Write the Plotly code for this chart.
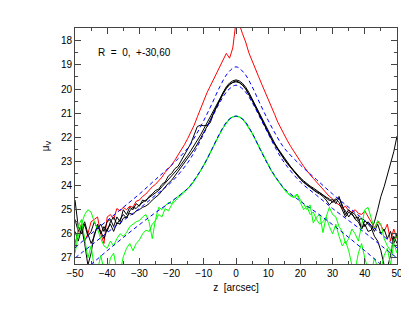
import plotly.graph_objects as go

# sampling positions (arcsec) for the measured profiles
z_obs = list(range(-50, 51))

red_R0 = [
    26.4, 25.9, 25.6, 26.3, 26.0, 25.5, 25.4, 25.3, 26.0, 26.4,
    25.3, 25.2, 25.4, 24.95, 25.05, 24.9, 25.0, 24.85, 24.9, 24.65,
    24.6, 24.45, 24.35, 24.2, 24.05, 23.95, 23.8, 23.65, 23.45, 23.3,
    23.15, 22.95, 22.75, 22.55, 22.3, 22.05, 21.8, 21.5, 21.15, 20.8,
    20.45, 20.15, 19.88, 19.6, 19.33, 19.08, 18.75, 18.52, 18.72, 18.3,
    17.2, 17.3, 17.7, 18.05, 18.5, 18.85, 19.15, 19.48, 19.8, 20.1,
    20.4, 20.72, 21.05, 21.38, 21.65, 21.9, 22.15, 22.38, 22.6, 22.8,
    23.0, 23.2, 23.4, 23.55, 23.7, 23.85, 24.0, 24.15, 24.3, 24.45,
    24.55, 24.7, 24.8, 24.95, 24.85, 25.05, 25.1, 25.0, 25.15, 25.2,
    25.05, 25.3, 25.5, 25.75, 25.5, 25.65, 25.9, 25.6, 26.3, 25.8, 26.2,
]

black_1 = [
    24.6, 25.7, 26.0, 25.6, 26.1, 25.9, 25.5, 25.8, 25.6, 25.9,
    25.5, 25.4, 25.7, 25.3, 25.5, 25.0, 25.2, 24.9, 25.0, 24.75,
    24.85, 24.6, 24.65, 24.45, 24.35, 24.2, 24.15, 23.95, 23.85, 23.6,
    23.5, 23.3, 23.2, 22.95, 22.75, 22.5, 22.25, 21.9, 21.55, 21.5,
    21.52, 21.5, 21.4, 21.0, 20.7, 20.42, 20.15, 19.95, 19.8, 19.72,
    19.66, 19.72, 19.82, 19.98, 20.2, 20.45, 20.72, 21.0, 21.28, 21.55,
    21.8, 22.05, 22.28, 22.5, 22.7, 22.9, 23.08, 23.25, 23.42, 23.58,
    23.72, 23.85, 23.95, 24.05, 24.12, 24.25, 24.3, 24.42, 24.5, 24.62,
    24.58, 24.75, 24.5, 24.8, 25.2, 25.0, 25.15, 25.4, 25.5, 25.8,
    25.6, 25.9, 25.85, 25.5, 25.0, 24.45, 24.05, 23.6, 23.15, 22.6, 21.95,
]

black_2 = [
    25.4, 25.9, 25.7, 26.4, 27.3, 26.8, 26.0, 25.7, 25.9, 26.2,
    25.8, 25.6, 25.9, 25.55, 25.6, 25.35, 25.3, 25.15, 25.2, 25.05,
    25.0, 24.9, 24.85, 24.75, 24.6, 24.5, 24.38, 24.22, 24.05, 23.9,
    23.78, 23.6, 23.42, 23.25, 23.08, 22.9, 22.7, 22.5, 22.28, 22.05,
    21.8, 21.55, 21.28, 21.0, 20.72, 20.45, 20.2, 19.98, 19.82, 19.73,
    19.7, 19.74, 19.84, 20.0, 20.22, 20.47, 20.74, 21.02, 21.3, 21.57,
    21.82, 22.07, 22.3, 22.52, 22.72, 22.92, 23.1, 23.27, 23.44, 23.6,
    23.74, 23.87, 23.98, 24.08, 24.17, 24.28, 24.35, 24.45, 24.6, 24.8,
    24.65, 24.55, 24.7, 25.0, 25.3, 25.1, 25.2, 25.35, 25.3, 25.8,
    25.45, 25.6, 25.75, 26.1, 26.3, 26.7, 27.3, 27.4, 26.9, 26.1, 26.4,
]

black_3 = [
    25.9, 26.3, 25.8, 25.5, 26.0, 26.4, 26.1, 25.6, 26.0, 25.7,
    25.9, 25.5, 25.3, 25.6, 25.4, 25.2, 25.35, 25.05, 24.9, 24.95,
    24.8, 24.7, 24.6, 24.5, 24.4, 24.3, 24.2, 24.05, 23.9, 23.75,
    23.62, 23.45, 23.3, 23.12, 22.95, 22.75, 22.55, 22.35, 22.12, 21.9,
    21.65, 21.4, 21.15, 20.9, 20.62, 20.36, 20.1, 19.9, 19.75, 19.66,
    19.62, 19.66, 19.76, 19.92, 20.14, 20.4, 20.68, 20.96, 21.24, 21.5,
    21.76, 22.0, 22.24, 22.46, 22.66, 22.86, 23.04, 23.22, 23.38, 23.54,
    23.68, 23.8, 23.92, 24.02, 24.1, 24.2, 24.3, 24.38, 24.48, 24.55,
    24.7, 24.6, 24.45, 24.9, 25.05, 25.3, 25.1, 25.2, 25.45, 25.35,
    25.7, 25.5, 25.65, 25.9, 25.6, 26.0, 25.8, 26.2, 25.9, 26.4, 26.0,
]

green_1 = [
    26.8, 26.1, 25.6, 25.2, 25.0, 25.1, 25.5, 25.8, 26.2, 26.5,
    26.6, 26.3, 26.5, 26.2, 26.0, 26.1, 25.95, 25.7, 25.6, 25.5,
    25.45, 25.3, 25.2, 25.5, 26.2, 25.4, 24.9, 25.0, 24.85, 24.7,
    24.75, 24.55, 24.45, 24.35, 24.25, 24.12, 23.98, 23.8, 23.6, 23.38,
    23.15, 22.9, 22.62, 22.35, 22.08, 21.82, 21.6, 21.4, 21.22, 21.15,
    21.12, 21.15, 21.22, 21.4, 21.6, 21.82, 22.08, 22.35, 22.62, 22.9,
    23.15, 23.38, 23.6, 23.8, 24.0, 24.15, 24.3, 24.42, 24.45, 24.35,
    24.6, 24.75, 25.0, 24.8, 25.55, 25.3, 25.2, 25.95, 25.3, 24.9,
    25.2, 25.3, 25.7, 25.9, 26.4, 26.2, 25.8, 26.0, 26.3, 25.6,
    25.0, 24.9, 25.4, 25.8, 25.45, 25.6, 26.2, 26.5, 26.7, 26.3, 26.1,
]

green_2 = [
    26.6, 25.7, 25.4, 26.3, 27.0, 26.5, 27.4, 27.5, 26.9, 27.5,
    27.6, 27.0, 26.8, 27.5, 27.6, 26.95, 26.6, 26.4, 26.7, 26.4,
    26.25, 26.0, 25.85, 25.9, 25.6, 25.45, 25.2, 25.3, 24.95, 25.05,
    24.8, 24.65, 24.5, 24.4, 24.28, 24.15, 24.0, 23.82, 23.62, 23.4,
    23.17, 22.92, 22.64, 22.37, 22.1, 21.84, 21.62, 21.42, 21.24, 21.16,
    21.13, 21.16, 21.24, 21.42, 21.62, 21.84, 22.1, 22.37, 22.64, 22.92,
    23.17, 23.4, 23.62, 23.82, 24.02, 24.17, 24.32, 24.44, 24.5, 24.4,
    24.7, 25.0, 24.85, 25.2, 25.1, 25.4, 25.6, 25.5, 25.3, 25.7,
    26.0, 25.6, 26.1, 26.5, 26.3, 26.7, 27.3, 27.5, 26.8, 26.4,
    27.0, 27.5, 27.6, 27.0, 27.4, 27.5, 26.9, 26.6, 27.3, 26.4, 26.8,
]

# model (dashed) profiles
z_model = [-50, -45, -40, -35, -30, -25, -20, -15, -12.5, -10, -7.5, -5, -2.5, 0,
           2.5, 5, 7.5, 10, 12.5, 15, 20, 25, 30, 35, 40, 45, 50]
model_1 = [26.58, 26.0, 25.45, 24.9, 24.35, 23.75, 23.15, 22.45, 21.92, 21.3, 20.62, 19.9, 19.33, 19.08,
           19.33, 19.9, 20.62, 21.3, 21.92, 22.45, 23.15, 23.75, 24.35, 24.9, 25.45, 26.0, 26.58]
model_2 = [27.0, 26.48, 25.95, 25.45, 24.95, 24.4, 23.85, 23.05, 22.5, 21.85, 21.2, 20.55, 20.05, 19.84,
           20.05, 20.55, 21.2, 21.85, 22.5, 23.05, 23.85, 24.4, 24.95, 25.45, 25.95, 26.48, 27.0]
model_3 = [27.85, 27.27, 26.7, 26.15, 25.62, 25.12, 24.65, 24.12, 23.68, 23.15, 22.5, 21.82, 21.3, 21.12,
           21.3, 21.82, 22.5, 23.15, 23.68, 24.12, 24.65, 25.12, 25.62, 26.15, 26.7, 27.27, 27.85]

x_ticks = [-50, -40, -30, -20, -10, 0, 10, 20, 30, 40, 50]
y_ticks = [18, 19, 20, 21, 22, 23, 24, 25, 26, 27]
label_text = "R  =  0,  +-30,60"

fig = go.Figure()

fig.add_trace(go.Scatter(x=z_obs, y=red_R0, mode="lines", line=dict(color="#ff0000", width=1)))
for b in (black_1, black_2, black_3):
    fig.add_trace(go.Scatter(x=z_obs, y=b, mode="lines", line=dict(color="#000000", width=1)))
for g in (green_1, green_2):
    fig.add_trace(go.Scatter(x=z_obs, y=g, mode="lines", line=dict(color="#00ff00", width=1)))
for m in (model_1, model_2, model_3):
    fig.add_trace(go.Scatter(x=z_model, y=m, mode="lines",
                             line=dict(color="#0000ff", width=1, dash="4px,3px", shape="spline")))

axis_common = dict(
    showgrid=False, zeroline=False, showline=True, linecolor="#444", linewidth=1,
    ticks="inside", ticklen=6, tickcolor="#444", mirror="allticks", automargin=False,
    tickfont=dict(size=10, color="black"),
)

fig.update_xaxes(
    range=[-50, 50], tickvals=x_ticks,
    minor=dict(dtick=5, tick0=0, ticklen=3, ticks="inside", tickcolor="#444"),
    title=dict(text="z  [arcsec]", font=dict(size=10), standoff=5),
    **axis_common,
)
fig.update_yaxes(
    range=[27.25, 17.47], tickvals=y_ticks,
    minor=dict(dtick=0.5, tick0=0, ticklen=3, ticks="inside", tickcolor="#444"),
    title=dict(text="μ<sub>V</sub>", font=dict(size=10), standoff=9),
    **axis_common,
)

fig.add_annotation(x=-43.6, y=18.47, xref="x", yref="y", text=label_text, showarrow=False,
                   xanchor="left", yanchor="middle", font=dict(size=10, color="black"))

# the page adds an 8px body margin, so the figure is sized to fit the window
fig.update_layout(
    width=401, height=308,
    margin=dict(l=67, r=12, t=20, b=52),
    paper_bgcolor="white", plot_bgcolor="white",
    showlegend=False,
    font=dict(family="Liberation Sans, Arial, sans-serif", size=10, color="black"),
)

fig.write_html("out.html")
